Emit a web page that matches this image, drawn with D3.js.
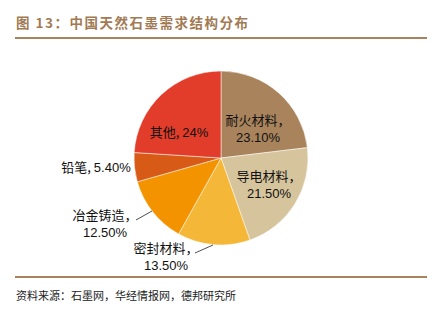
<!DOCTYPE html>
<html><head><meta charset="utf-8">
<script src="https://cdn.jsdelivr.net/npm/d3@7"></script>
<style>body{margin:0;background:#fff}svg{display:block}</style>
</head><body>
<script>
const categories = ["耐火材料", "导电材料", "密封材料", "冶金铸造", "铅笔", "其他"];
const values = [23.10, 21.50, 13.50, 12.50, 5.40, 24];
const valueLabels = ["23.10%", "21.50%", "13.50%", "12.50%", "5.40%", "24%"];
const colors = ["#A8835C", "#D6C49C", "#F5B738", "#F39300", "#D85A17", "#E23D2B"];
const title = "图 13：中国天然石墨需求结构分布";
const source = "资料来源：石墨网，华经情报网，德邦研究所";

const W = 435, H = 316;
const svg = d3.select("body").append("svg").attr("width", W).attr("height", H);
const cjk = "'Noto Sans CJK SC', sans-serif";
const num = "'Liberation Sans', Arial, sans-serif";

svg.append("text").attr("x", 16).attr("y", 28).text(title)
  .attr("font-family", cjk).attr("font-weight", "bold").attr("font-size", 13.5)
  .attr("fill", "#A27B54").attr("letter-spacing", 1.5);
svg.append("line").attr("x1", 15).attr("x2", 427).attr("y1", 38).attr("y2", 38)
  .attr("stroke", "#A8835E").attr("stroke-width", 2);
svg.append("line").attr("x1", 15).attr("x2", 427).attr("y1", 277).attr("y2", 277)
  .attr("stroke", "#A8835E").attr("stroke-width", 2);
svg.append("text").attr("x", 16).attr("y", 300).text(source)
  .attr("font-family", cjk).attr("font-size", 11).attr("fill", "#222");

const cx = 221, cy = 158, r = 87;
const pie = d3.pie().sort(null).value(d => d)(values);
const arc = d3.arc().innerRadius(0).outerRadius(r);
const g = svg.append("g").attr("transform", `translate(${cx},${cy})`);
g.selectAll("path").data(pie).join("path")
  .attr("d", arc).attr("fill", (d, i) => colors[i])
  .attr("stroke", "#fff").attr("stroke-width", 0.5);

// label placement (offsets relative to centre)
const labels = [
  {i: 0, x: 37, y: -33, two: true},
  {i: 1, x: 48, y: 23, two: true},
  {i: 2, x: -55, y: 95, two: true, line: [[-26, 95], [-8, 87]]},
  {i: 3, x: -116, y: 62, two: true, line: [[-85, 62], [-69, 53]]},
  {i: 4, x: -125, y: 14, two: false},
  {i: 5, x: -42, y: -21, two: false}
];
labels.forEach(l => {
  const t = g.append("text").attr("text-anchor", "middle").attr("fill", "#111")
    .attr("font-size", 13);
  if (l.two) {
    t.append("tspan").attr("x", l.x).attr("y", l.y)
      .attr("font-family", cjk).text(categories[l.i] + "，");
    t.append("tspan").attr("x", l.x).attr("y", l.y + 16.5)
      .attr("font-family", num).text(valueLabels[l.i]);
  } else {
    t.attr("x", l.x).attr("y", l.y);
    t.append("tspan").attr("font-family", cjk).text(categories[l.i] + ", ");
    t.append("tspan").attr("font-family", num).text(valueLabels[l.i]);
  }
  if (l.line) {
    g.append("polyline").attr("points", l.line.map(p => p.join(",")).join(" "))
      .attr("fill", "none").attr("stroke", "#222").attr("stroke-width", 0.8);
  }
});
</script>
</body></html>
